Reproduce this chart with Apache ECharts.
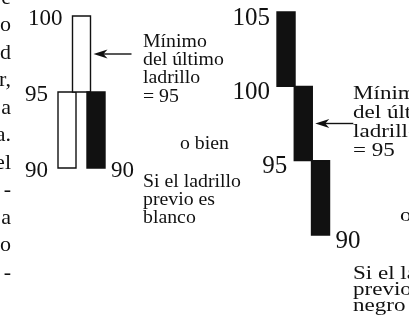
<!DOCTYPE html>
<html>
<head>
<meta charset="utf-8">
<script src="https://cdn.jsdelivr.net/npm/echarts@6/dist/echarts.min.js"></script>
<style>
  html, body { margin: 0; background: #fff; }
  #chart { width: 409px; height: 329px; }
</style>
</head>
<body>
<div id="chart"></div>
<script>
// left: previous brick white / right: previous brick black
const leftCols = [0, 1, 2];
const leftLow = [90, 95, 90];
const leftHigh = [95, 100, 95];
const leftUp = [1, 1, 0];

const rightCols = [0, 1, 2];
const rightLow = [100, 95, 90];
const rightHigh = [105, 100, 95];
const rightUp = [0, 0, 0];

// price tags next to the bricks (column, price, side -1 = left, 1 = right)
const leftTagCols = [1, 0, 0, 2];
const leftTags = [100, 95, 90, 90];
const leftTagSide = [-1, -1, -1, 1];
const rightTagCols = [0, 0, 1, 2];
const rightTags = [105, 100, 95, 90];
const rightTagSide = [-1, -1, -1, 1];

// arrow to the middle of the last brick
const leftArrow = [1, 97.5];
const rightArrow = [1, 97.5];

const noteLines = ['Mínimo', 'del último', 'ladrillo', '= 95'];
const leftCase = ['Si el ladrillo', 'previo es', 'blanco'];
const rightCase = ['Si el ladrillo', 'previo es', 'negro'];
const orText = 'o bien';
// cut-off words of the previous text column
const marginText = ['e', 'o', 'd', 'r,', 'a', 'a.', 'el', '-', 'a', 'o', '-'];

const SERIF = '"Liberation Serif", "Times New Roman", serif';
const INK = '#111';
const BRICK_W = 18;

const chart = echarts.init(document.getElementById('chart'));

function brick(params, api) {
  const x = api.value(0);
  const lo = api.coord([x, api.value(1)]);
  const hi = api.coord([x, api.value(2)]);
  const up = api.value(3) === 1;
  return {
    type: 'rect',
    z2: up ? 1 : 2,
    shape: { x: lo[0] - BRICK_W / 2, y: hi[1], width: BRICK_W, height: lo[1] - hi[1] },
    style: { fill: up ? '#fff' : INK, stroke: INK, lineWidth: 1.4 }
  };
}

// size, gap and vertical nudge differ a little between the two drawings
function tagRenderer(fontSize, gapLeft, gapRight, dy) {
  return function (params, api) {
    const p = api.coord([api.value(0), api.value(1)]);
    const side = api.value(2);
    const gap = side < 0 ? gapLeft : gapRight;
    return {
      type: 'text',
      x: p[0] + side * (BRICK_W / 2 + gap),
      y: p[1] + dy,
      style: {
        text: String(api.value(1)),
        fontSize: fontSize,
        fontFamily: SERIF,
        fill: INK,
        align: side < 0 ? 'right' : 'left',
        verticalAlign: 'middle'
      }
    };
  };
}

function arrow(params, api) {
  const p = api.coord([api.value(0), api.value(1)]);
  const tip = p[0] + BRICK_W / 2 + 3;
  const y = p[1];
  return {
    type: 'group',
    children: [
      { type: 'line', shape: { x1: tip + 8, y1: y, x2: tip + 38, y2: y }, style: { stroke: INK, lineWidth: 1.4 } },
      { type: 'polygon', shape: { points: [[tip, y], [tip + 14, y - 4.5], [tip + 10, y], [tip + 14, y + 4.5]] }, style: { fill: INK } }
    ]
  };
}

function zipBricks(cols, lo, hi, up) {
  return cols.map((c, i) => [c, lo[i], hi[i], up[i]]);
}
function zipTags(cols, tags, side) {
  return cols.map((c, i) => [c, tags[i], side[i]]);
}

function textBlock(lines, x, y, lineHeight, stretch) {
  return {
    type: 'text',
    x: x,
    y: y,
    scaleX: stretch,
    style: {
      text: lines.join('\n'),
      fontSize: 18,
      fontFamily: SERIF,
      fill: INK,
      lineHeight: lineHeight,
      align: 'left',
      verticalAlign: 'top'
    }
  };
}

const option = {
  backgroundColor: '#fff',
  animation: false,
  grid: [
    { left: 59.75, top: 16, width: 43.5, height: 152 },
    { left: 277.4, top: 12, width: 51.75, height: 223 }
  ],
  xAxis: [
    { gridIndex: 0, type: 'value', min: -0.5, max: 2.5, show: false },
    { gridIndex: 1, type: 'value', min: -0.5, max: 2.5, show: false }
  ],
  yAxis: [
    { gridIndex: 0, type: 'value', min: 90, max: 100, show: false },
    { gridIndex: 1, type: 'value', min: 90, max: 105, show: false }
  ],
  graphic: [
    {
      type: 'text', x: 11, y: -16,
      style: { text: marginText.join('\n'), fontSize: 22, fontFamily: SERIF, fill: INK, lineHeight: 27.5, align: 'right', verticalAlign: 'top' }
    },
    textBlock(noteLines, 143, 33, 18.3, 1.1),
    textBlock([orText], 180, 135, 18, 1.1),
    textBlock(leftCase, 143, 173, 18, 1.1),
    textBlock(noteLines, 353, 85, 19, 1.28),
    textBlock([orText], 400, 207, 18, 1.28),
    textBlock(rightCase, 353, 266, 16, 1.28)
  ],
  series: [
    { type: 'custom', xAxisIndex: 0, yAxisIndex: 0, clip: false, renderItem: brick, data: zipBricks(leftCols, leftLow, leftHigh, leftUp) },
    { type: 'custom', xAxisIndex: 1, yAxisIndex: 1, clip: false, renderItem: brick, data: zipBricks(rightCols, rightLow, rightHigh, rightUp) },
    { type: 'custom', xAxisIndex: 0, yAxisIndex: 0, clip: false, renderItem: tagRenderer(23, 10, 6, 3), data: zipTags(leftTagCols, leftTags, leftTagSide) },
    { type: 'custom', xAxisIndex: 1, yAxisIndex: 1, clip: false, renderItem: tagRenderer(25, 7, 6, 6), data: zipTags(rightTagCols, rightTags, rightTagSide) },
    { type: 'custom', xAxisIndex: 0, yAxisIndex: 0, clip: false, renderItem: arrow, data: [leftArrow] },
    { type: 'custom', xAxisIndex: 1, yAxisIndex: 1, clip: false, renderItem: arrow, data: [rightArrow] }
  ]
};

chart.setOption(option);
</script>
</body>
</html>
